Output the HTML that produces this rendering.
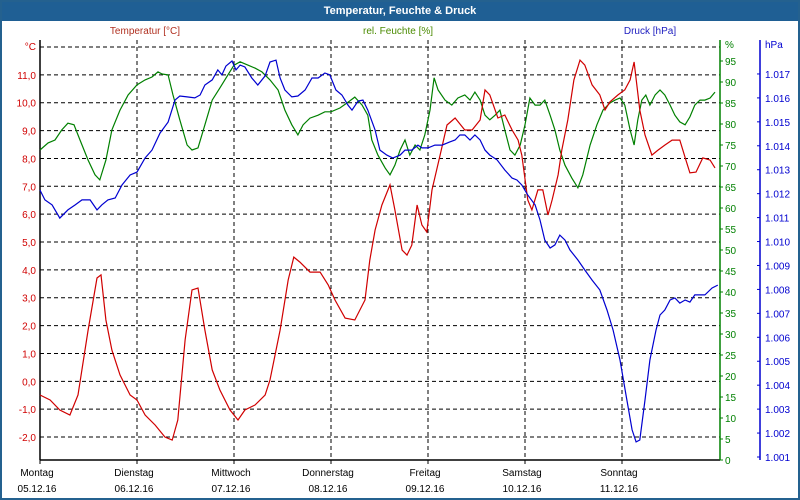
<!DOCTYPE html>
<html><head><meta charset="utf-8"><style>
html,body{margin:0;padding:0;background:#fff;}
#wrap{position:relative;width:796px;height:496px;border:2px solid #24618f;overflow:hidden;font-family:"Liberation Sans",sans-serif;}
#title{position:absolute;left:0;top:0;width:796px;height:19px;background:#1f5f94;color:#fff;font-weight:bold;font-size:11px;text-align:center;line-height:18px;}
svg{position:absolute;left:-2px;top:-2px;}
text{font-family:"Liberation Sans",sans-serif;font-size:10px;}
</style></head><body>
<div id="wrap">
<div id="title">Temperatur, Feuchte &amp; Druck</div>
<svg id="chart" width="800" height="500"></svg>
</div>
<script>
const dayNames=["Montag","Dienstag","Mittwoch","Donnerstag","Freitag","Samstag","Sonntag"];
const dayDates=["05.12.16","06.12.16","07.12.16","08.12.16","09.12.16","10.12.16","11.12.16"];
const tempTicks=[12,11,10,9,8,7,6,5,4,3,2,1,0,-1,-2];
const humTicks=[95,90,85,80,75,70,65,60,55,50,45,40,35,30,25,20,15,10,5,0];
const presTicks=[1017,1016,1015,1014,1013,1012,1011,1010,1009,1008,1007,1006,1005,1004,1003,1002,1001];
const tempHours=[0,2.5,4.9,7.4,9.4,11.9,14.1,15.1,16.3,17.8,19.8,22.3,24,26,28.5,30.9,32.7,34.1,35.9,37.6,39.1,40.8,42.6,44.5,47,49,50.7,53.2,55.7,56.9,59.4,61.4,62.8,64.3,66.8,69.3,71.3,73,75.5,77.9,80.4,81.6,82.9,84.6,86.6,87.8,89.6,90.8,92,93.3,94.5,95.7,97,99,100.7,102.7,105.1,106.9,108.9,110.1,111.3,113.3,115,116.8,118.3,119.2,120.7,121.7,123.2,124.4,125.7,126.7,128.2,129.1,130.6,132.1,133.6,134.8,136.6,138.5,139.8,141,143,144.7,146,147,148.4,149.7,151.4,152.9,154.6,156.4,158.3,159.8,160.8,162.3,164,165.8,167];
const tempValues=[-0.49,-0.67,-1.03,-1.21,-0.49,1.84,3.71,3.82,2.2,1.12,0.23,-0.49,-0.67,-1.21,-1.57,-2,-2.11,-1.39,1.48,3.28,3.35,1.84,0.41,-0.31,-1.03,-1.39,-1.03,-0.85,-0.49,0.05,1.84,3.64,4.46,4.28,3.92,3.92,3.46,2.92,2.27,2.2,2.92,4.35,5.43,6.33,7.05,6.15,4.71,4.53,4.89,6.33,5.61,5.36,6.87,8.12,9.2,9.45,9.02,9.02,9.38,10.46,10.28,9.45,9.56,9.02,8.66,8.12,6.51,6.15,6.87,6.87,5.97,6.51,7.41,8.3,9.38,10.82,11.53,11.35,10.64,10.28,9.74,10.03,10.28,10.46,10.82,11.46,9.74,8.84,8.12,8.3,8.48,8.66,8.66,7.94,7.48,7.51,8.02,7.94,7.66];
const humHours=[0,2,3.7,5.4,6.9,8.4,9.9,11.9,13.6,14.8,16.3,17.8,19.8,21.8,24,26,27.7,29.2,30.2,31.7,32.9,34.6,36.4,37.6,39.1,40.8,42.6,44.5,46.5,48,49.5,51.5,53.2,54.9,56.9,58.9,60.6,62.3,63.8,65.1,66.8,68.8,70.5,72,74.2,76.2,77.9,79.7,81.1,82.1,83.6,85.4,86.6,87.8,89.1,90.3,91.5,92.8,94,95.2,96.5,97.5,98.5,100.2,101.9,103.4,105.1,106.4,107.6,108.9,110.1,111.3,112.6,113.8,115,116.3,117.5,118.8,120,121.2,122.5,123.7,124.9,126.2,127.4,128.6,129.9,131.6,133.1,134.3,136.1,137.8,139.3,141,142.3,143.5,144.7,146,147,147.9,148.9,149.9,150.9,152.2,153.4,154.6,155.9,157.1,158.3,159.6,160.8,162,163.3,164.5,165.8,167];
const humValues=[73.8,75.5,76.2,78.6,80.2,79.8,76.2,71.4,67.9,66.7,71.4,78.6,83.3,86.9,89.3,90.5,91.2,92.4,91.9,91.7,86.9,81,75,73.8,74.3,79.8,85.7,88.6,91.7,94,94.8,94,93.3,92.4,90.5,88.1,83.3,79.8,77.4,79.8,81.4,82.1,82.9,82.9,83.8,85.2,86.4,84.5,82.1,76.2,72.6,69.5,67.9,70.2,73.8,76.2,72.6,75,73.8,77.4,83.3,91,88.1,85.7,84.5,86.2,86.9,85.7,87.6,85.7,82.1,81,82.1,83.3,78.6,73.8,72.6,75,79.8,86.2,84.5,84.5,85.7,82.1,78.6,73.8,70.2,67.1,64.8,67.9,75,79.8,83.3,85,85.7,86.2,84.5,78.6,75,81,85.7,86.9,84.5,86.9,88.1,86.9,84.5,82.1,80.5,79.8,81.7,84.5,85.7,85.7,86.2,87.6];
const presHours=[0,1.2,3,4.9,6.9,8.7,10.4,12.4,14.1,15.3,16.8,18.6,20.3,22.3,24,26,27.7,29.7,31.7,33.4,34.6,36.4,38.3,39.6,40.8,42.6,44,45,46,47.5,48.5,49.5,50.7,52.4,53.9,55.7,56.9,58.4,59.4,60.6,62.3,63.8,65.6,67.3,68.8,70.5,71.7,73.2,74.7,76.2,77.2,78.7,79.9,81.1,82.9,84.1,85.8,87.3,89.1,90.3,92,93.5,94.5,96,97.7,99.5,101.4,102.7,103.9,105.1,106.4,107.6,108.9,110.1,111.3,113.1,115,116.8,118,119.2,120.7,122.5,123.7,124.9,126.2,127.4,128.6,129.9,131.1,133.1,134.8,136.6,138.5,140.3,141.8,143.5,145,146.5,147.5,148.4,149.7,150.9,152.4,153.4,154.6,155.9,157.1,158.3,159.6,160.8,162,163.3,164.5,166.3,167.7];
const presValues=[1012.15,1011.74,1011.53,1010.98,1011.32,1011.53,1011.74,1011.74,1011.32,1011.53,1011.74,1011.82,1012.36,1012.78,1012.9,1013.49,1013.82,1014.53,1014.99,1015.91,1016.08,1016.04,1016,1016.12,1016.54,1016.75,1017.17,1016.96,1017.33,1017.54,1017.17,1017.37,1017.29,1016.83,1016.54,1016.92,1017.5,1017.58,1016.83,1016.33,1016.04,1016.08,1016.33,1016.83,1016.83,1017.04,1016.96,1016.33,1016.12,1015.7,1015.49,1015.87,1015.91,1015.49,1014.66,1013.82,1013.61,1013.49,1013.61,1013.82,1013.82,1014.03,1013.91,1013.91,1014.03,1014.03,1014.16,1014.24,1014.45,1014.45,1014.24,1014.45,1014.24,1013.82,1013.61,1013.41,1012.99,1012.65,1012.57,1012.36,1011.94,1011.53,1010.9,1010.06,1009.73,1009.86,1010.27,1010.06,1009.65,1009.23,1008.81,1008.39,1007.98,1007.14,1006.3,1005.05,1003.59,1002.13,1001.63,1001.71,1003.38,1005.05,1006.3,1006.93,1007.14,1007.56,1007.64,1007.43,1007.56,1007.47,1007.77,1007.77,1007.77,1008.06,1008.18];

const NS="http://www.w3.org/2000/svg";
const svg=document.getElementById('chart');
const L=40,R=720,T=40,B=460;
const xOf=h=>L+h*(97/24);
const yT=v=>47+(12-v)*27.86;
const yH=v=>460-v*4.2;
const yP=v=>457-(v-1001)*23.94;
function mk(tag,attrs,parent){const e=document.createElementNS(NS,tag);for(const k in attrs)e.setAttribute(k,attrs[k]);(parent||svg).appendChild(e);return e;}

// horizontal gridlines
tempTicks.forEach(v=>{
  const g=mk('line',{x1:L,x2:R,y1:yT(v),y2:yT(v),stroke:'#000','stroke-width':1,'stroke-dasharray':'4,3'});
  
  
  if(v!==12){
    const t=mk('text',{x:36,y:yT(v)+4,'text-anchor':'end',fill:'#d00000'});
    t.textContent=v.toFixed(1).replace('.',',');
    
    
  }
});
// vertical gridlines + day labels
dayNames.forEach((d,i)=>{
  const x=xOf(i*24);
  if(i>0){
    const g=mk('line',{x1:x,x2:x,y1:T,y2:B,stroke:'#000','stroke-width':1,'stroke-dasharray':'4,3'});
    
    
  }
  const tk=mk('line',{x1:x,x2:x,y1:B,y2:B+4,stroke:'#000'});
  
  
  const t1=mk('text',{x:x-3,y:476,'text-anchor':'middle',fill:'#000'});
  t1.textContent=d;
  
  
  const t2=mk('text',{x:x-3,y:492,'text-anchor':'middle',fill:'#000'});
  t2.textContent=dayDates[i];
  
  
});
// axes
const ax1=mk('line',{x1:L,x2:L,y1:T,y2:B,stroke:'#000','stroke-width':1.5});


const ax2=mk('line',{x1:L,x2:R,y1:B,y2:B,stroke:'#000','stroke-width':1.5});


const ax3=mk('line',{x1:R,x2:R,y1:T,y2:B,stroke:'#008000','stroke-width':1.5});


const ax4=mk('line',{x1:760,x2:760,y1:T,y2:B,stroke:'#0000d0','stroke-width':1.5});



humTicks.forEach(v=>{
  const tk=mk('line',{x1:R,x2:R+3,y1:yH(v),y2:yH(v),stroke:'#008000'});
  
  
  const t=mk('text',{x:725,y:yH(v)+4,fill:'#008000'});
  t.textContent=v;
  
  
});
presTicks.forEach(v=>{
  const tk=mk('line',{x1:757,x2:760,y1:yP(v),y2:yP(v),stroke:'#0000d0'});
  
  
  const t=mk('text',{x:765,y:yP(v)+4,fill:'#0000d0'});
  t.textContent=(v/1000).toFixed(3);
  
  
});
function lbl(txt,x,y,fill,anchor,name){const t=mk('text',{x:x,y:y,fill:fill,'text-anchor':anchor});t.textContent=txt;}
lbl('°C',36,50,'#d00000','end','temp-unit');
lbl('%',725,48,'#008000','start','humidity-unit');
lbl('hPa',765,48,'#0000d0','start','pressure-unit');
lbl('Temperatur [°C]',145,34,'#b03020','middle','temp-series-title');
lbl('rel. Feuchte [%]',398,34,'#4a8a00','middle','humidity-series-title');
lbl('Druck [hPa]',650,34,'#2020c0','middle','pressure-series-title');

function series(hours,vals,yf,color,name){
  const d=hours.map((h,i)=>(i?'L':'M')+xOf(h).toFixed(1)+','+yf(vals[i]).toFixed(1)).join(' ');
  const p=mk('path',{d:d,fill:'none',stroke:color,'stroke-width':1.2});
  
  
}
series(humHours,humValues,yH,'#008000','humidity-line');
series(tempHours,tempValues,yT,'#d00000','temperature-line');
series(presHours,presValues,yP,'#0000d0','pressure-line');
</script>
</body></html>
